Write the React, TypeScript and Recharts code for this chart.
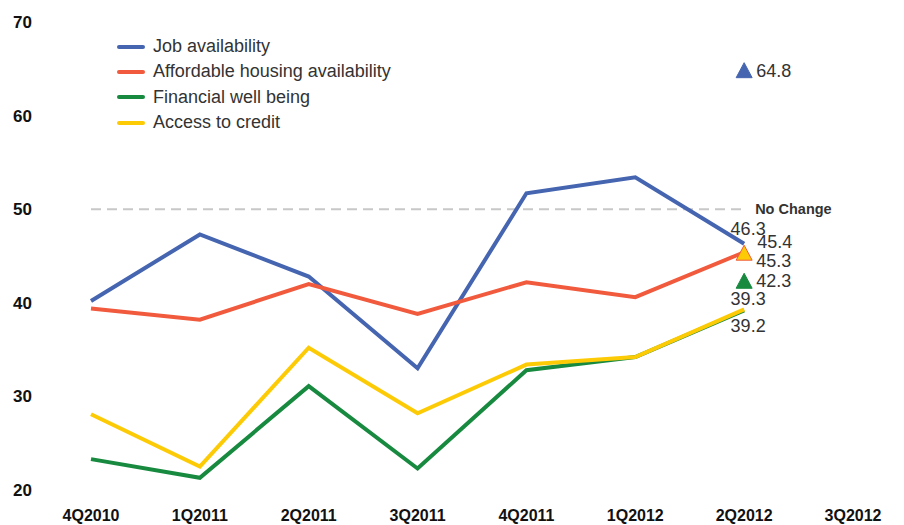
import React from "react";
import {
  LineChart,
  Line,
  XAxis,
  YAxis,
  ReferenceLine,
  Legend,
} from "recharts";

const quarters = [
  "4Q2010",
  "1Q2011",
  "2Q2011",
  "3Q2011",
  "4Q2011",
  "1Q2012",
  "2Q2012",
  "3Q2012",
];

const jobAvailability = [40.2, 47.3, 42.8, 33.0, 51.7, 53.4, 46.3, null];
const housingAvailability = [39.4, 38.2, 42.0, 38.8, 42.2, 40.6, 45.4, null];
const financialWellBeing = [23.3, 21.3, 31.1, 22.3, 32.8, 34.2, 39.2, null];
const accessToCredit = [28.1, 22.5, 35.2, 28.2, 33.4, 34.2, 39.3, null];

// triangle markers next to the 2Q2012 values
const jobOutlook = [null, null, null, null, null, null, 64.8, null];
const creditOutlook = [null, null, null, null, null, null, 45.3, null];
const financialOutlook = [null, null, null, null, null, null, 42.3, null];

const yTicks = [20, 30, 40, 50, 60, 70];

const BLUE = "#4565b1";
const RED = "#f15a3d";
const GREEN = "#178a3f";
const YELLOW = "#fdcb06";

const series = [
  { key: "job", name: "Job availability", color: BLUE },
  { key: "housing", name: "Affordable housing availability", color: RED },
  { key: "financial", name: "Financial well being", color: GREEN },
  { key: "credit", name: "Access to credit", color: YELLOW },
];

const data = quarters.map((q, i) => ({
  name: q,
  job: jobAvailability[i],
  housing: housingAvailability[i],
  financial: financialWellBeing[i],
  credit: accessToCredit[i],
  jobOut: jobOutlook[i],
  creditOut: creditOutlook[i],
  financialOut: financialOutlook[i],
}));

const FONT = "'Liberation Sans', Arial, sans-serif";
const LAST = 6;
const LABEL_SIZE = 18;

// value label at the end of a line, dx/dy relative to the point
function endLabel(dx: number, dy: number, anchor: string) {
  return (props: any) => {
    const { x, y, value, index } = props;
    if (index !== LAST || value == null) return null;
    return (
      <text
        x={x + dx}
        y={y + dy}
        textAnchor={anchor}
        dominantBaseline="central"
        fontSize={LABEL_SIZE}
        fontFamily={FONT}
        fill="#333"
      >
        {value.toFixed(1)}
      </text>
    );
  };
}

function triangleDot(fill: string, stroke: string, dy: number) {
  return (props: any) => {
    const { cx, cy, value, index } = props;
    if (value == null || cy == null) return <g key={index} />;
    const w = 8;
    const h = 14;
    return (
      <g key={index}>
        <polygon
          points={`${cx},${cy - h / 2 - 1} ${cx - w},${cy + h / 2} ${cx + w},${cy + h / 2}`}
          fill={fill}
          stroke={stroke}
          strokeWidth={1}
        />
        <text
          x={cx + 12}
          y={cy + dy}
          dominantBaseline="central"
          fontSize={LABEL_SIZE}
          fontFamily={FONT}
          fill="#333"
        >
          {value.toFixed(1)}
        </text>
      </g>
    );
  };
}

function LegendBox() {
  return (
    <div style={{ fontFamily: FONT, fontSize: 18, color: "#333" }}>
      {series.map((s) => (
        <div
          key={s.key}
          style={{ display: "flex", alignItems: "center", height: 25.3 }}
        >
          <div
            style={{
              width: 28,
              height: 4,
              borderRadius: 2,
              background: s.color,
              marginRight: 8,
            }}
          />
          <span>{s.name}</span>
        </div>
      ))}
    </div>
  );
}

export default function App() {
  return (
    <LineChart
      width={896}
      height={517}
      data={data}
      margin={{ top: 14, right: 51, bottom: 0, left: 0 }}
    >
      <XAxis
        dataKey="name"
        height={35}
        axisLine={false}
        tickLine={false}
        tickSize={0}
        tickMargin={20}
        padding={{ left: 59, right: 0 }}
        interval={0}
        tick={{ fontSize: 16, fontWeight: "bold", fill: "#111", fontFamily: FONT }}
      />
      <YAxis
        width={24}
        domain={[20, 70]}
        ticks={yTicks}
        axisLine={false}
        tickLine={false}
        tickSize={0}
        tickMargin={0}
        tick={{ fontSize: 17, fontWeight: "bold", fill: "#111", fontFamily: FONT }}
      />
      <Legend
        layout="vertical"
        verticalAlign="middle"
        align="center"
        wrapperStyle={{ top: 26, left: 109, width: "auto", height: "auto" }}
        content={() => <LegendBox />}
      />
      <ReferenceLine
        segment={[
          { x: "4Q2010", y: 50 },
          { x: "2Q2012", y: 50 },
        ]}
        stroke="#c8c8c8"
        strokeWidth={2}
        strokeDasharray="10 6"
        label={{
          value: "No Change",
          position: "right",
          offset: 11,
          fontSize: 14.5,
          fontWeight: "bold",
          fill: "#333",
          fontFamily: FONT,
        }}
      />
      <Line
        dataKey="financial"
        name="Financial well being"
        stroke={GREEN}
        strokeWidth={4}
        dot={false}
        isAnimationActive={false}
        label={endLabel(4, 16, "middle")}
      />
      <Line
        dataKey="credit"
        name="Access to credit"
        stroke={YELLOW}
        strokeWidth={4}
        dot={false}
        isAnimationActive={false}
        label={endLabel(4, -10, "middle")}
      />
      <Line
        dataKey="job"
        name="Job availability"
        stroke={BLUE}
        strokeWidth={4}
        dot={false}
        isAnimationActive={false}
        label={endLabel(4, -15, "middle")}
      />
      <Line
        dataKey="housing"
        name="Affordable housing availability"
        stroke={RED}
        strokeWidth={4}
        dot={false}
        isAnimationActive={false}
        label={endLabel(13, -10, "start")}
      />
      <Line
        dataKey="jobOut"
        stroke="none"
        legendType="none"
        dot={triangleDot(BLUE, BLUE, 0)}
        isAnimationActive={false}
      />
      <Line
        dataKey="creditOut"
        stroke="none"
        legendType="none"
        dot={triangleDot(YELLOW, RED, 8)}
        isAnimationActive={false}
      />
      <Line
        dataKey="financialOut"
        stroke="none"
        legendType="none"
        dot={triangleDot(GREEN, GREEN, 0)}
        isAnimationActive={false}
      />
    </LineChart>
  );
}
